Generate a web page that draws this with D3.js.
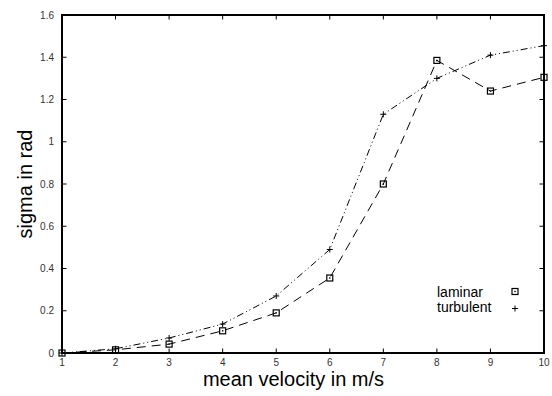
<!DOCTYPE html>
<html>
<head>
<meta charset="utf-8">
<script src="https://cdn.jsdelivr.net/npm/d3@7"></script>
<style>
  body { margin: 0; background: #fff; }
  svg { display: block; }
</style>
</head>
<body>
<div id="chart"></div>
<script>
// data
var velocity = [1, 2, 3, 4, 5, 6, 7, 8, 9, 10];
var laminar = [0, 0.015, 0.042, 0.105, 0.19, 0.355, 0.80, 1.385, 1.24, 1.305];
var turbulent = [0, 0.02, 0.071, 0.137, 0.27, 0.49, 1.13, 1.30, 1.41, 1.455];
var xTicks = [1, 2, 3, 4, 5, 6, 7, 8, 9, 10];
var yTicks = [0, 0.2, 0.4, 0.6, 0.8, 1, 1.2, 1.4, 1.6];

var width = 552, height = 396;
var margin = {left: 62, right: 8, top: 15, bottom: 43};

var svg = d3.select("#chart").append("svg")
  .attr("width", width)
  .attr("height", height);

var x = d3.scaleLinear().domain([1, 10]).range([margin.left, width - margin.right]);
var y = d3.scaleLinear().domain([0, 1.6]).range([height - margin.bottom, margin.top]);

var font = "'Liberation Sans', Arial, Helvetica, sans-serif";

///
/// axes (gnuplot style: inward ticks, mirrored)
///
var tl = 4.5;
var g = svg.append("g");

xTicks.forEach(function(t) {
  g.append("line").attr("x1", x(t)).attr("x2", x(t))
    .attr("y1", y(0)).attr("y2", y(0) - tl)
    .attr("stroke", "#000");
  g.append("line").attr("x1", x(t)).attr("x2", x(t))
    .attr("y1", y(1.6)).attr("y2", y(1.6) + tl)
    .attr("stroke", "#000");
  g.append("text").attr("x", x(t)).attr("y", y(0) + 13)
    .attr("text-anchor", "middle")
    .attr("font-family", font).attr("font-size", 10).attr("fill", "#333")
    .text(t);
});

yTicks.forEach(function(t) {
  g.append("line").attr("x1", x(1)).attr("x2", x(1) + tl)
    .attr("y1", y(t)).attr("y2", y(t))
    .attr("stroke", "#000");
  g.append("line").attr("x1", x(10)).attr("x2", x(10) - tl)
    .attr("y1", y(t)).attr("y2", y(t))
    .attr("stroke", "#000");
  g.append("text").attr("x", x(1) - 8).attr("y", y(t) + 3.5)
    .attr("text-anchor", "end")
    .attr("font-family", font).attr("font-size", 10).attr("fill", "#333")
    .text(t);
});

g.append("rect")
  .attr("x", x(1)).attr("y", y(1.6))
  .attr("width", x(10) - x(1)).attr("height", y(0) - y(1.6))
  .attr("fill", "none").attr("stroke", "#000").attr("stroke-width", 2);

svg.append("text")
  .attr("x", 293.5).attr("y", 386)
  .attr("text-anchor", "middle")
  .attr("font-family", font).attr("font-size", 20)
  .text("mean velocity in m/s");

svg.append("text")
  .attr("transform", "translate(32," + (y(0.8)) + ") rotate(-90)")
  .attr("text-anchor", "middle")
  .attr("font-family", font).attr("font-size", 20)
  .text("sigma in rad");

///
/// lines
///
var line = d3.line()
  .x(function(d) { return x(d[0]); })
  .y(function(d) { return y(d[1]); });

var lamPts = d3.zip(velocity, laminar);
var turPts = d3.zip(velocity, turbulent);

svg.append("path").datum(lamPts)
  .attr("d", line)
  .attr("fill", "none").attr("stroke", "#000").attr("stroke-width", 1)
  .attr("stroke-dasharray", "9,6");

svg.append("path").datum(turPts)
  .attr("d", line)
  .attr("fill", "none").attr("stroke", "#000").attr("stroke-width", 1)
  .attr("stroke-dasharray", "7,3,1,3,1,3");

///
/// markers
///
function drawSquare(sel, px, py) {
  sel.append("rect")
    .attr("x", px - 3).attr("y", py - 3)
    .attr("width", 6).attr("height", 6)
    .attr("fill", "none").attr("stroke", "#000").attr("stroke-width", 1.2);
  sel.append("rect")
    .attr("x", px - 0.7).attr("y", py - 0.7)
    .attr("width", 1.4).attr("height", 1.4)
    .attr("fill", "#000");
}

function drawPlus(sel, px, py) {
  sel.append("path")
    .attr("d", "M" + (px - 3) + "," + py + "H" + (px + 3) + "M" + px + "," + (py - 3) + "V" + (py + 3))
    .attr("stroke", "#000").attr("stroke-width", 1);
}

var mk = svg.append("g");
lamPts.forEach(function(d) { drawSquare(mk, x(d[0]), y(d[1])); });
turPts.forEach(function(d) { drawPlus(mk, x(d[0]), y(d[1])); });

///
/// legend
///
var lg = svg.append("g");
lg.append("text").attr("x", 437).attr("y", 297)
  .attr("font-family", font).attr("font-size", 14).text("laminar");
lg.append("text").attr("x", 437).attr("y", 312)
  .attr("font-family", font).attr("font-size", 14).text("turbulent");
drawSquare(lg, 515, 291.5);
drawPlus(lg, 515, 308.5);
</script>
</body>
</html>
